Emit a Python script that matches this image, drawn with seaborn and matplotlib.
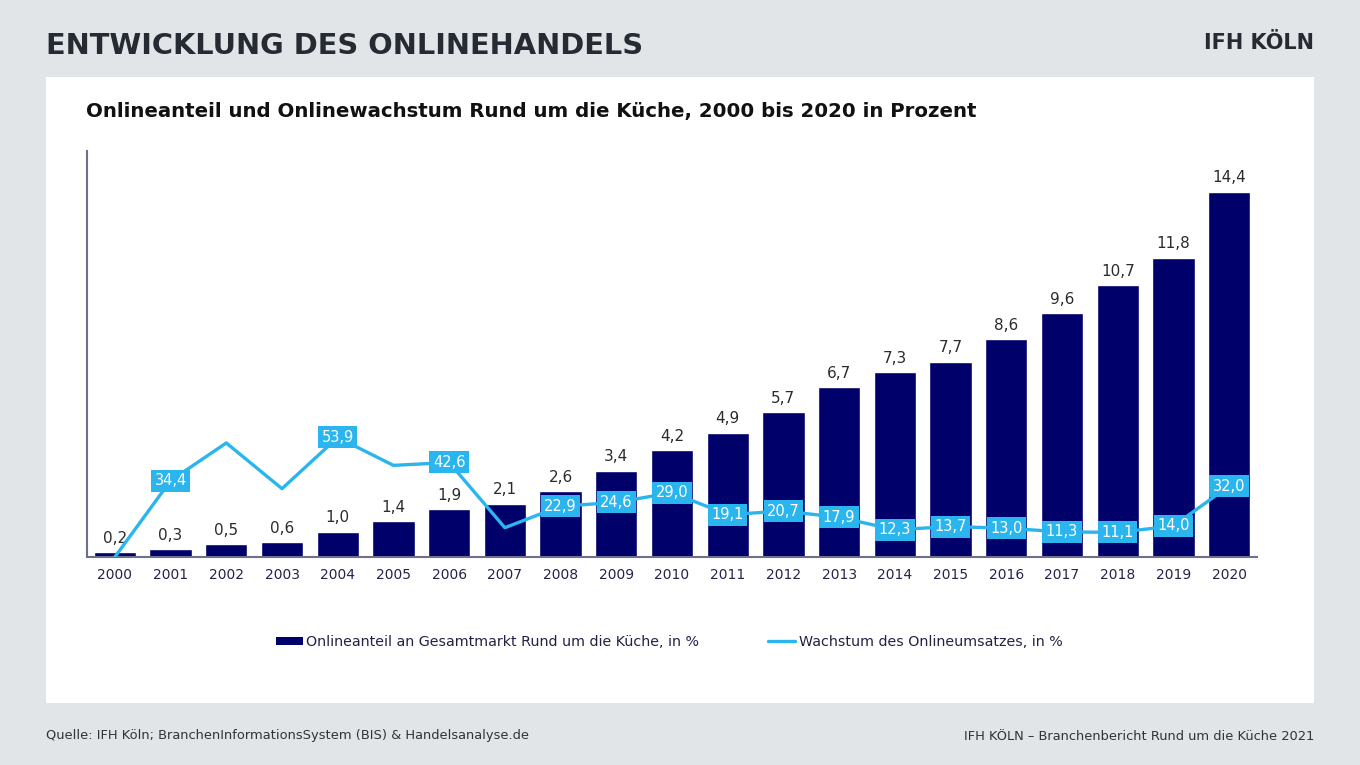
import matplotlib
matplotlib.use("Agg")
import matplotlib.pyplot as plt
from matplotlib.patches import Rectangle
from matplotlib.lines import Line2D
from matplotlib.patches import Patch
import seaborn as sns
import numpy as np
import pandas as pd

years = [str(y) for y in range(2000, 2021)]
share = [0.2, 0.3, 0.5, 0.6, 1.0, 1.4, 1.9, 2.1, 2.6, 3.4, 4.2, 4.9, 5.7, 6.7, 7.3, 7.7, 8.6, 9.6, 10.7, 11.8, 14.4]
growth = [0.0, 34.4, 51.4, 30.8, 53.9, 41.3, 42.6, 13.2, 22.9, 24.6, 29.0, 19.1, 20.7, 17.9, 12.3, 13.7, 13.0, 11.3, 11.1, 14.0, 32.0]
growth_labeled = [False, True, False, False, True, False, True, False, True, True, True, True, True, True, True, True, True, True, True, True, True]

title = "ENTWICKLUNG DES ONLINEHANDELS"
subtitle = "Onlineanteil und Onlinewachstum Rund um die Küche, 2000 bis 2020 in Prozent"
legend_bar = "Onlineanteil an Gesamtmarkt Rund um die Küche, in %"
legend_line = "Wachstum des Onlineumsatzes, in %"
source = "Quelle: IFH Köln; BranchenInformationsSystem (BIS) & Handelsanalyse.de"
footer_right = "IFH KÖLN – Branchenbericht Rund um die Küche 2021"
logo = "IFH KÖLN"

NAVY = "#00006b"
BLUE = "#2bb5ee"
BG = "#e1e5e8"
TXT = "#262b33"

sns.set_theme(style="white")
plt.rcParams['font.family'] = ['DejaVu Sans']

W, H = 1360, 765
fig = plt.figure(figsize=(W / 100, H / 100), dpi=100)
fig.patch.set_facecolor(BG)
fig.add_artist(Rectangle((46 / W, 1 - 703 / H), (1314 - 46) / W, (703 - 77) / H,
                         transform=fig.transFigure, facecolor="white", edgecolor="none", zorder=0))

ax = fig.add_axes([87 / W, 1 - 557 / H, (1257 - 87) / W, (557 - 151) / H])
ax.set_facecolor("none")
df = pd.DataFrame({"year": years, "share": share, "growth": growth})
sns.barplot(data=df, x="year", y="share", color=NAVY, saturation=1, width=0.76, ax=ax)
ax.set_xlim(-0.5, 20.5)
ax.set_ylim(0, 16.0)
ax.set_xlabel("")
ax.set_ylabel("")
ax.set_yticks([])
for s in ["top", "right"]:
    ax.spines[s].set_visible(False)
for s in ["left", "bottom"]:
    ax.spines[s].set_color("#6f6f8f")
    ax.spines[s].set_linewidth(1.5)
ax.tick_params(axis="x", length=0, pad=8, labelsize=10, labelcolor="#25254a")

for i, v in enumerate(share):
    ax.annotate(f"{v:.1f}".replace(".", ","), (i, v), xytext=(0, 4.5), textcoords="offset points",
                ha="center", va="bottom", fontsize=11, color="#2b2b2b")

ax2 = ax.twinx()
ax2.set_ylim(0, 183)
sns.lineplot(x=np.arange(len(growth)), y=growth, ax=ax2, color=BLUE, linewidth=2.4)
ax2.set_xlim(-0.5, 20.5)
ax2.set_yticks([])
ax2.set_ylabel("")
for s in ["top", "right", "left", "bottom"]:
    ax2.spines[s].set_visible(False)
for i, (v, lab) in enumerate(zip(growth, growth_labeled)):
    if lab:
        ax2.text(i, v, f"{v:.1f}".replace(".", ","), ha="center", va="center", fontsize=10.5,
                 color="white", bbox=dict(boxstyle="square,pad=0.24", facecolor=BLUE, edgecolor="none"))

handles = [Patch(facecolor=NAVY, edgecolor="none"), Line2D([0], [0], color=BLUE, linewidth=2.4)]
fig.legend(handles, [legend_bar, legend_line], loc="center", bbox_to_anchor=(669 / W, 1 - 642 / H),
           ncol=2, frameon=False, fontsize=10.3, handlelength=1.9, handletextpad=0.25, columnspacing=4.8,
           labelcolor="#222244", handleheight=0.5)

fig.text(46 / W, 1 - 46 / H, title, ha="left", va="center", fontsize=20.8, fontweight="bold", color=TXT)
fig.text(1314 / W, 1 - 43 / H, logo, ha="right", va="center", fontsize=15, fontweight="bold", color=TXT)
fig.text(86 / W, 1 - 111 / H, subtitle, ha="left", va="center", fontsize=14.2, fontweight="bold", color="#111111")
fig.text(46 / W, 1 - 736 / H, source, ha="left", va="center", fontsize=9.4, color="#333333")
fig.text(1314 / W, 1 - 736 / H, footer_right, ha="right", va="center", fontsize=9.4, color="#333333")

fig.savefig("out.png", dpi=100, facecolor=BG)
